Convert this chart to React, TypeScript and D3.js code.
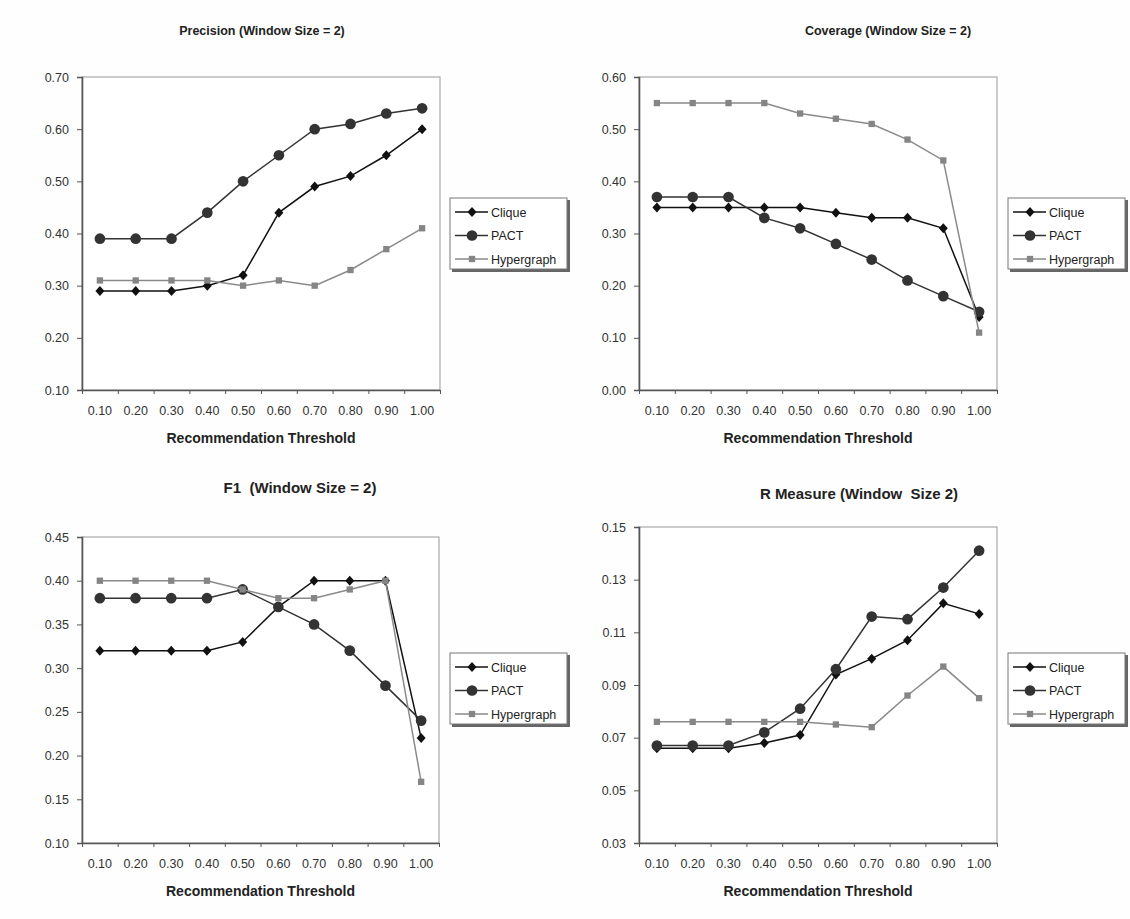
import { useEffect, useRef } from 'react';
import * as d3 from 'd3';

const thresholds = ['0.10', '0.20', '0.30', '0.40', '0.50', '0.60', '0.70', '0.80', '0.90', '1.00'];
const seriesNames = ['Clique', 'PACT', 'Hypergraph'];

const precisionClique = [0.29, 0.29, 0.29, 0.30, 0.32, 0.44, 0.49, 0.51, 0.55, 0.60];
const precisionPact = [0.39, 0.39, 0.39, 0.44, 0.50, 0.55, 0.60, 0.61, 0.63, 0.64];
const precisionHyper = [0.31, 0.31, 0.31, 0.31, 0.30, 0.31, 0.30, 0.33, 0.37, 0.41];

const coverageClique = [0.35, 0.35, 0.35, 0.35, 0.35, 0.34, 0.33, 0.33, 0.31, 0.14];
const coveragePact = [0.37, 0.37, 0.37, 0.33, 0.31, 0.28, 0.25, 0.21, 0.18, 0.15];
const coverageHyper = [0.55, 0.55, 0.55, 0.55, 0.53, 0.52, 0.51, 0.48, 0.44, 0.11];

const f1Clique = [0.32, 0.32, 0.32, 0.32, 0.33, 0.37, 0.40, 0.40, 0.40, 0.22];
const f1Pact = [0.38, 0.38, 0.38, 0.38, 0.39, 0.37, 0.35, 0.32, 0.28, 0.24];
const f1Hyper = [0.40, 0.40, 0.40, 0.40, 0.39, 0.38, 0.38, 0.39, 0.40, 0.17];

const rClique = [0.066, 0.066, 0.066, 0.068, 0.071, 0.094, 0.100, 0.107, 0.121, 0.117];
const rPact = [0.067, 0.067, 0.067, 0.072, 0.081, 0.096, 0.116, 0.115, 0.127, 0.141];
const rHyper = [0.076, 0.076, 0.076, 0.076, 0.076, 0.075, 0.074, 0.086, 0.097, 0.085];

const precisionTicks = [0.1, 0.2, 0.3, 0.4, 0.5, 0.6, 0.7];
const coverageTicks = [0, 0.1, 0.2, 0.3, 0.4, 0.5, 0.6];
const f1Ticks = [0.1, 0.15, 0.2, 0.25, 0.3, 0.35, 0.4, 0.45];
const rTicks = [0.03, 0.05, 0.07, 0.09, 0.11, 0.13, 0.15];

const FONT = '"Liberation Sans", Arial, sans-serif';

// one panel per chart; box = plot area in page pixels
const panels = [
  {
    title: 'Precision (Window Size = 2)', titleX: 262, titleY: 35, titleSize: 12.5,
    box: { x0: 82, x1: 440, y0: 77, y1: 390 }, ticks: precisionTicks,
    series: [precisionClique, precisionPact, precisionHyper],
    legend: { x: 450, y: 198 },
  },
  {
    title: 'Coverage (Window Size = 2)', titleX: 888, titleY: 35, titleSize: 12.5,
    box: { x0: 639, x1: 997, y0: 77, y1: 390 }, ticks: coverageTicks,
    series: [coverageClique, coveragePact, coverageHyper],
    legend: { x: 1008, y: 198 },
  },
  {
    title: 'F1  (Window Size = 2)', titleX: 300, titleY: 493, titleSize: 15,
    box: { x0: 82, x1: 439, y0: 537, y1: 843 }, ticks: f1Ticks,
    series: [f1Clique, f1Pact, f1Hyper],
    legend: { x: 450, y: 653 },
  },
  {
    title: 'R Measure (Window  Size 2)', titleX: 859, titleY: 499, titleSize: 15,
    box: { x0: 639, x1: 997, y0: 527, y1: 843 }, ticks: rTicks,
    series: [rClique, rPact, rHyper],
    legend: { x: 1008, y: 653 },
  },
];

const styles = [
  { stroke: '#111', fill: '#111', shape: 'diamond' },
  { stroke: '#333', fill: '#333', shape: 'circle' },
  { stroke: '#8a8a8a', fill: '#858585', shape: 'square' },
];

const markerPath = (shape: string) => {
  if (shape === 'diamond') return 'M0,-5L4.5,0L0,5L-4.5,0Z';
  if (shape === 'circle') return d3.symbol(d3.symbolCircle, 90)();
  return d3.symbol(d3.symbolSquare, 40)();
};

const App = () => {
  const svgRef = useRef<SVGSVGElement>(null);

  useEffect(() => {
    const svg = d3.select(svgRef.current);
    svg.selectAll('*').remove();

    svg.append('rect').attr('width', 1130).attr('height', 919).attr('fill', '#fdfefd');

    panels.forEach(p => {
      const { x0, x1, y0, y1 } = p.box;
      const g = svg.append('g');

      const x = d3.scaleBand().domain(thresholds).range([x0, x1]).padding(0);
      const y = d3.scaleLinear()
        .domain([p.ticks[0], p.ticks[p.ticks.length - 1]])
        .range([y1, y0]);

      // plot frame
      g.append('rect')
        .attr('x', x0).attr('y', y0)
        .attr('width', x1 - x0).attr('height', y1 - y0)
        .attr('fill', '#fff').attr('stroke', '#a8a8a8').attr('stroke-width', 1.2);

      // y axis
      const yAxis = g.append('g')
        .attr('transform', `translate(${x0},0)`)
        .call(d3.axisLeft(y).tickValues(p.ticks).tickFormat(d3.format('.2f')).tickSize(5).tickPadding(8));
      yAxis.select('.domain').attr('stroke', '#555').attr('stroke-width', 1.6);

      // x axis: ticks at band edges, labels at band centres
      const edges = d3.scaleLinear().domain([0, thresholds.length]).range([x0, x1]);
      const xEdge = g.append('g')
        .attr('transform', `translate(0,${y1})`)
        .call(d3.axisBottom(edges).tickValues(d3.range(thresholds.length + 1)).tickFormat(() => '').tickSizeInner(4).tickSizeOuter(0));
      xEdge.select('.domain').attr('stroke', '#555').attr('stroke-width', 1.6);

      g.append('g')
        .attr('transform', `translate(0,${y1})`)
        .call(d3.axisBottom(x).tickSize(0).tickPadding(16))
        .select('.domain').remove();

      [yAxis, xEdge].forEach(a => a.selectAll('.tick line').attr('stroke', '#555'));
      g.selectAll('.tick text')
        .attr('font-family', FONT).attr('font-size', 12.5).attr('fill', '#333');

      // series lines and markers
      p.series.forEach((vals, si) => {
        const st = styles[si];
        const pts = thresholds.map((t, i) => [x(t)! + x.bandwidth() / 2, y(vals[i])] as [number, number]);
        g.append('path')
          .attr('d', d3.line()(pts))
          .attr('fill', 'none').attr('stroke', st.stroke).attr('stroke-width', 1.5);
        g.append('g')
          .selectAll('path')
          .data(pts)
          .join('path')
          .attr('transform', d => `translate(${d[0]},${d[1]})`)
          .attr('d', markerPath(st.shape))
          .attr('fill', st.fill);
      });

      // titles
      g.append('text')
        .attr('x', p.titleX).attr('y', p.titleY)
        .attr('text-anchor', 'middle')
        .attr('font-family', FONT).attr('font-weight', 'bold').attr('font-size', p.titleSize)
        .attr('fill', '#222')
        .style('white-space', 'pre')
        .text(p.title);

      g.append('text')
        .attr('x', (x0 + x1) / 2).attr('y', y1 + 53)
        .attr('text-anchor', 'middle')
        .attr('font-family', FONT).attr('font-weight', 'bold').attr('font-size', 14)
        .attr('fill', '#222')
        .text('Recommendation Threshold');

      // legend
      const lg = g.append('g').attr('transform', `translate(${p.legend.x},${p.legend.y})`);
      lg.append('rect')
        .attr('x', 2).attr('y', 2).attr('width', 118).attr('height', 72)
        .attr('fill', '#666');
      lg.append('rect')
        .attr('width', 117).attr('height', 71)
        .attr('fill', '#fff').attr('stroke', '#777').attr('stroke-width', 1);
      seriesNames.forEach((name, si) => {
        const st = styles[si];
        const ly = 14 + si * 23.5;
        lg.append('line')
          .attr('x1', 5).attr('x2', 38).attr('y1', ly).attr('y2', ly)
          .attr('stroke', st.stroke).attr('stroke-width', 1.5);
        lg.append('path')
          .attr('transform', `translate(22,${ly})`)
          .attr('d', markerPath(st.shape))
          .attr('fill', st.fill);
        lg.append('text')
          .attr('x', 41).attr('y', ly + 4.5)
          .attr('font-family', FONT).attr('font-size', 12.5).attr('fill', '#222')
          .text(name);
      });
    });
  }, []);

  return (
    <svg ref={svgRef} width={1130} height={919}
      style={{ position: 'absolute', left: 0, top: 0, display: 'block' }} />
  );
};

export default App;
